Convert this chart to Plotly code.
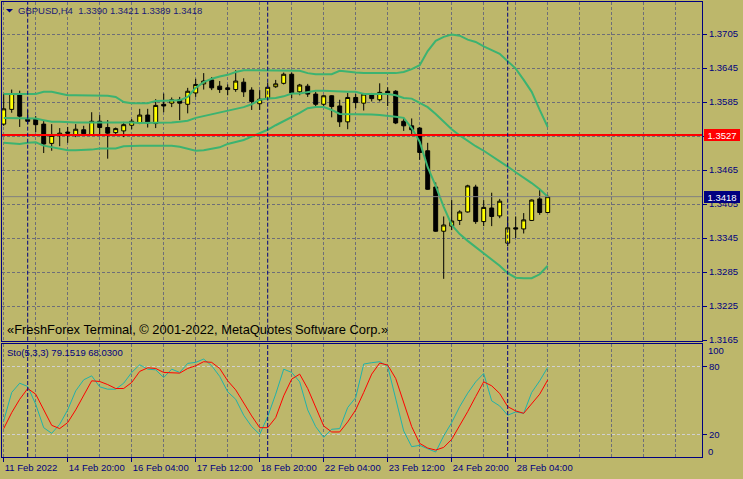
import plotly.graph_objects as go
from datetime import datetime, timedelta

# ---------------- data ----------------
symbol = "GBPUSD,H4"
trading_days = ["2022-02-11", "2022-02-14", "2022-02-15", "2022-02-16", "2022-02-17",
                "2022-02-18", "2022-02-21", "2022-02-22", "2022-02-23", "2022-02-24",
                "2022-02-25", "2022-02-28"]
first_bar = "2022-02-11 12:00"

open_ = [1.3546, 1.3572, 1.3599, 1.3556, 1.3555, 1.3546, 1.3512, 1.3526, 1.3532, 1.3526,
         1.3536, 1.3527, 1.3551, 1.3540, 1.3531, 1.3534, 1.3544, 1.3548, 1.3562, 1.3547,
         1.3581, 1.3583, 1.3589, 1.3581, 1.3601, 1.3617, 1.3624, 1.3613, 1.3610, 1.3607,
         1.3620, 1.3606, 1.3582, 1.3591, 1.3612, 1.3618, 1.3634, 1.3603, 1.3613, 1.3599,
         1.3581, 1.3596, 1.3578, 1.3550, 1.3593, 1.3583, 1.3599, 1.3589, 1.3604, 1.3604,
         1.3551, 1.3543, 1.3539, 1.3499, 1.3435, 1.3357, 1.3366, 1.3376, 1.3391, 1.3435,
         1.3374, 1.3398, 1.3384, 1.3336, 1.3363, 1.3361, 1.3376, 1.3414, 1.3390]
high = [1.3599, 1.3607, 1.3605, 1.3571, 1.3560, 1.3553, 1.3546, 1.3539, 1.3541, 1.3546,
        1.3543, 1.3567, 1.3562, 1.3553, 1.3540, 1.3550, 1.3555, 1.3573, 1.3573, 1.3590,
        1.3600, 1.3593, 1.3594, 1.3610, 1.3626, 1.3636, 1.3629, 1.3622, 1.3616, 1.3641,
        1.3627, 1.3611, 1.3606, 1.3619, 1.3624, 1.3637, 1.3637, 1.3617, 1.3617, 1.3603,
        1.3597, 1.3597, 1.3589, 1.3601, 1.3599, 1.3601, 1.3601, 1.3618, 1.3611, 1.3606,
        1.3557, 1.3556, 1.3541, 1.3513, 1.3443, 1.3383, 1.3412, 1.3394, 1.3439, 1.3439,
        1.3412, 1.3425, 1.3414, 1.3383, 1.3383, 1.3389, 1.3413, 1.3431, 1.3421]
low = [1.3543, 1.3566, 1.3541, 1.3546, 1.3532, 1.3495, 1.3499, 1.3507, 1.3513, 1.3523,
       1.3526, 1.3526, 1.3526, 1.3485, 1.3525, 1.3523, 1.3537, 1.3546, 1.3540, 1.3539,
       1.3567, 1.3576, 1.3553, 1.3565, 1.3594, 1.3607, 1.3606, 1.3601, 1.3597, 1.3603,
       1.3594, 1.3571, 1.3571, 1.3589, 1.3610, 1.3616, 1.3592, 1.3597, 1.3594, 1.3577,
       1.3578, 1.3558, 1.3541, 1.3537, 1.3574, 1.3570, 1.3586, 1.3586, 1.3578, 1.3546,
       1.3534, 1.3527, 1.3483, 1.3430, 1.3356, 1.3273, 1.3359, 1.3368, 1.3390, 1.3370,
       1.3366, 1.3366, 1.3380, 1.3331, 1.3345, 1.3353, 1.3375, 1.3386, 1.3389]
close = [1.3573, 1.3600, 1.3560, 1.3551, 1.3545, 1.3511, 1.3526, 1.3530, 1.3530, 1.3537,
         1.3529, 1.3551, 1.3540, 1.3530, 1.3538, 1.3545, 1.3551, 1.3562, 1.3548, 1.3579,
         1.3578, 1.3589, 1.3583, 1.3604, 1.3616, 1.3622, 1.3610, 1.3607, 1.3607, 1.3622,
         1.3603, 1.3586, 1.3590, 1.3611, 1.3617, 1.3634, 1.3601, 1.3615, 1.3599, 1.3581,
         1.3596, 1.3577, 1.3550, 1.3593, 1.3584, 1.3599, 1.3591, 1.3602, 1.3601, 1.3548,
         1.3543, 1.3536, 1.3496, 1.3431, 1.3357, 1.3368, 1.3375, 1.3391, 1.3437, 1.3374,
         1.3399, 1.3383, 1.3410, 1.3363, 1.3361, 1.3377, 1.3412, 1.3390, 1.3418]

bb_upper = [1.3599, 1.3599, 1.3599, 1.3599, 1.3599, 1.3603, 1.3603, 1.3600, 1.3597, 1.3597,
            1.3597, 1.3597, 1.3596, 1.3596, 1.3594, 1.3585, 1.3583, 1.3583, 1.3583, 1.3587,
            1.3587, 1.3587, 1.3588, 1.3594, 1.3610, 1.3620, 1.3626, 1.3630, 1.3633, 1.3638,
            1.3641, 1.3641, 1.3641, 1.3641, 1.3641, 1.3641, 1.3641, 1.3640, 1.3636, 1.3634,
            1.3634, 1.3634, 1.3640, 1.3638, 1.3637, 1.3636, 1.3636, 1.3636, 1.3636, 1.3636,
            1.3638, 1.3643, 1.3650, 1.3675, 1.3693, 1.3700, 1.3704, 1.3702, 1.3695, 1.3691,
            1.3683, 1.3676, 1.3670, 1.3657, 1.3644, 1.3624, 1.3603, 1.3571, 1.3541]
bb_middle = [1.3557, 1.3557, 1.3556, 1.3556, 1.3556, 1.3553, 1.3550, 1.3550, 1.3549, 1.3549,
             1.3549, 1.3549, 1.3549, 1.3550, 1.3550, 1.3550, 1.3549, 1.3548, 1.3548, 1.3548,
             1.3548, 1.3549, 1.3550, 1.3552, 1.3557, 1.3560, 1.3564, 1.3567, 1.3570, 1.3573,
             1.3576, 1.3581, 1.3589, 1.3591, 1.3592, 1.3595, 1.3600, 1.3600, 1.3603, 1.3605,
             1.3605, 1.3604, 1.3603, 1.3603, 1.3603, 1.3599, 1.3599, 1.3599, 1.3599, 1.3597,
             1.3592, 1.3591, 1.3583, 1.3576, 1.3564, 1.3551, 1.3537, 1.3526, 1.3516, 1.3507,
             1.3499, 1.3490, 1.3480, 1.3471, 1.3461, 1.3452, 1.3442, 1.3431, 1.3418]
bb_lower = [1.3513, 1.3512, 1.3511, 1.3513, 1.3514, 1.3508, 1.3505, 1.3502, 1.3500, 1.3500,
            1.3500, 1.3501, 1.3503, 1.3503, 1.3503, 1.3507, 1.3508, 1.3508, 1.3508, 1.3508,
            1.3508, 1.3508, 1.3506, 1.3503, 1.3499, 1.3500, 1.3502, 1.3505, 1.3511, 1.3514,
            1.3518, 1.3524, 1.3530, 1.3536, 1.3544, 1.3551, 1.3558, 1.3566, 1.3574, 1.3576,
            1.3576, 1.3571, 1.3564, 1.3564, 1.3564, 1.3564, 1.3563, 1.3562, 1.3561, 1.3559,
            1.3557, 1.3539, 1.3515, 1.3470, 1.3437, 1.3400, 1.3368, 1.3352, 1.3340, 1.3329,
            1.3318, 1.3306, 1.3296, 1.3283, 1.3275, 1.3274, 1.3274, 1.3281, 1.3296]

sto_main = [31.9, 57.0, 65.2, 62.3, 46.6, 25.9, 20.9, 28.9, 41.6, 58.4,
            68.2, 71.7, 62.0, 59.9, 59.9, 65.2, 74.7, 81.5, 77.6, 77.0,
            70.2, 77.6, 74.7, 82.7, 83.6, 86.5, 80.6, 71.2, 57.6, 51.0,
            36.9, 26.8, 20.0, 35.7, 55.5, 77.6, 74.7, 66.4, 41.6, 26.8,
            17.4, 24.5, 25.1, 43.7, 52.5, 82.1, 83.3, 84.2, 80.1, 52.0,
            23.0, 9.1, 10.3, 7.3, 4.4, 18.6, 30.4, 44.5, 56.4, 66.4,
            73.8, 49.6, 45.1, 36.9, 39.8, 38.6, 57.0, 67.3, 79.1519]
sto_signal = [25.1, 39.2, 51.0, 60.5, 55.5, 42.2, 28.0, 25.1, 30.4, 41.6,
              54.0, 67.3, 66.7, 64.0, 60.5, 60.5, 65.8, 75.6, 78.8, 78.2,
              74.7, 74.7, 74.1, 78.2, 80.6, 84.2, 83.6, 78.2, 67.3, 59.3,
              47.5, 36.3, 25.9, 25.9, 34.8, 54.0, 68.8, 73.2, 60.5, 43.7,
              27.4, 22.1, 22.1, 31.0, 41.6, 57.0, 73.2, 83.0, 81.2, 69.4,
              48.9, 26.8, 12.0, 7.9, 6.1, 8.5, 15.6, 27.4, 40.1, 53.4,
              66.4, 62.9, 56.1, 44.5, 40.7, 38.6, 46.6, 55.5, 68.03]
sto_levels = [20, 80]
price_level = 1.3527
price_ticks = [1.3165, 1.3225, 1.3285, 1.3345, 1.3405, 1.3465, 1.3525, 1.3585, 1.3645, 1.3705]

# ---------------- derived ----------------
start = datetime.strptime(first_bar, "%Y-%m-%d %H:%M")
times = []
for d in trading_days:
    day = datetime.strptime(d, "%Y-%m-%d")
    for h in range(0, 24, 4):
        t = day + timedelta(hours=h)
        if t >= start:
            times.append(t)
times = times[:len(close)]
n = len(close)
x = list(range(n))

label_idx = list(range(0, n, 8))
label_txt = [times[i].strftime("%d %b %Y") if j == 0 else times[i].strftime("%d %b %H:%M")
             for j, i in enumerate(label_idx)]
separators = [i for i, t in enumerate(times) if t.weekday() == 0 and t.hour == 0]

BG = "#BDB76B"
NAVY = "#000080"
GRID = "#6e6e78"
FONT = "Liberation Sans, Arial, sans-serif"

fig = go.Figure()
fig.add_trace(go.Candlestick(
    x=x, open=open_, high=high, low=low, close=close,
    increasing=dict(fillcolor="#FFFF00", line=dict(color="#000000", width=1)),
    decreasing=dict(fillcolor="#000000", line=dict(color="#000000", width=1)),
    whiskerwidth=0, xaxis="x", yaxis="y", hoverinfo="skip", showlegend=False))
for band in (bb_upper, bb_middle, bb_lower):
    fig.add_trace(go.Scatter(x=x, y=band, mode="lines", xaxis="x", yaxis="y",
                             line=dict(color="#3CB371", width=2), hoverinfo="skip",
                             showlegend=False))
fig.add_trace(go.Scatter(x=x, y=sto_main, mode="lines", xaxis="x2", yaxis="y2",
                         line=dict(color="#20B2AA", width=1), hoverinfo="skip",
                         showlegend=False))
fig.add_trace(go.Scatter(x=x, y=sto_signal, mode="lines", xaxis="x2", yaxis="y2",
                         line=dict(color="#FF0000", width=1), hoverinfo="skip",
                         showlegend=False))

# horizontal level lines
fig.add_shape(type="line", xref="x domain", yref="y", x0=0, x1=1, y0=price_level, y1=price_level,
              line=dict(color="#FF0000", width=2), layer="above")
fig.add_shape(type="line", xref="x domain", yref="y", x0=0, x1=1, y0=close[-1], y1=close[-1],
              line=dict(color="#808080", width=1), layer="above")
# period separators
for i in separators:
    for yr in ("y domain", "y2 domain"):
        fig.add_shape(type="line", xref="x", yref=yr, x0=i, x1=i, y0=0, y1=1,
                      line=dict(color=NAVY, width=1, dash="4px,2px"), layer="above")

PLOT_L, PLOT_R, PLOT_T, PLOT_B = 2, 41, 2, 22
W, H = 743, 479
pw, ph = W - PLOT_L - PLOT_R, H - PLOT_T - PLOT_B


def px(xp):
    return (xp - PLOT_L) / pw


def py(yp):
    return 1 - (yp - PLOT_T) / ph


# header triangle
fig.add_shape(type="path", xref="paper", yref="paper",
              path=f"M {px(6)},{py(9)} L {px(13)},{py(9)} L {px(9.5)},{py(12.5)} Z",
              fillcolor=NAVY, line=dict(width=0))

x_range = [-0.2125, 87.2875]
main_dom = [py(340.7), 1]
sto_dom = [0, py(343.8)]
y_range = [1.31638, 1.37615]

axis_font = dict(family=FONT, size=9.5, color=NAVY)
fig.update_layout(
    width=W, height=H,
    margin=dict(l=PLOT_L, r=PLOT_R, t=PLOT_T, b=PLOT_B, pad=0, autoexpand=False),
    paper_bgcolor=BG, plot_bgcolor=BG,
    font=dict(family=FONT, size=9.5, color=NAVY),
    showlegend=False, hovermode=False,
    xaxis=dict(domain=[0, 1], anchor="y", range=x_range, rangeslider=dict(visible=False),
               tickmode="array", tickvals=label_idx, showticklabels=False, ticks="",
               automargin=False,
               showgrid=True, gridcolor=GRID, griddash="3px,2px", gridwidth=1,
               minor=dict(tick0=0, dtick=4, showgrid=True, gridcolor=GRID, griddash="3px,2px"),
               showline=True, mirror=True, linecolor=NAVY, linewidth=1, zeroline=False),
    xaxis2=dict(domain=[0, 1], anchor="y2", matches="x", range=x_range,
                tickmode="array", tickvals=label_idx, ticktext=label_txt, tickangle=0,
                ticklabelposition="outside right", ticks="outside", ticklen=4, tickcolor=NAVY,
                ticklabelstandoff=2,
                tickfont=axis_font, automargin=False,
                showgrid=True, gridcolor=GRID, griddash="3px,2px", gridwidth=1,
                minor=dict(tick0=0, dtick=4, showgrid=True, gridcolor=GRID, griddash="3px,2px"),
                showline=True, mirror=True, linecolor=NAVY, linewidth=1, zeroline=False),
    yaxis=dict(domain=main_dom, anchor="x", range=y_range, side="right",
               tickmode="array", tickvals=price_ticks, tickformat=".4f", automargin=False,
               ticks="outside", ticklen=4, tickcolor=NAVY, tickfont=axis_font,
               showgrid=True, gridcolor=GRID, griddash="3px,2px", gridwidth=1,
               showline=True, mirror=True, linecolor=NAVY, linewidth=1, zeroline=False),
    yaxis2=dict(domain=sto_dom, anchor="x2", range=[0, 100], side="right",
                tickmode="array", tickvals=sto_levels, automargin=False,
                ticks="outside", ticklen=4, tickcolor=NAVY, tickfont=axis_font,
                showgrid=True, gridcolor="#d0d0d0", griddash="3px,2px", gridwidth=1,
                showline=True, mirror=True, linecolor=NAVY, linewidth=1, zeroline=False),
)

ann = []
ann.append(dict(xref="paper", yref="paper", x=px(16), y=py(10.5), xanchor="left", yanchor="middle",
                showarrow=False, font=dict(family=FONT, size=9.5, color="#1a1a78"),
                text=f"{symbol}\u00a0\u00a0{open_[-1]:.4f} {high[-1]:.4f} {low[-1]:.4f} {close[-1]:.4f}"))
ann.append(dict(xref="paper", yref="paper", x=px(5), y=py(329), xanchor="left", yanchor="middle",
                showarrow=False, font=dict(family=FONT, size=12.9, color="#000000"),
                text="«FreshForex Terminal, © 2001-2022, MetaQuotes Software Corp.»"))
ann.append(dict(xref="paper", yref="paper", x=px(5), y=py(352), xanchor="left", yanchor="middle",
                showarrow=False, font=dict(family=FONT, size=9.5, color=NAVY),
                text=f"Sto(5,3,3) {sto_main[-1]:.4f} {sto_signal[-1]:.4f}"))
for val, bg in ((price_level, "#FF0000"), (close[-1], NAVY)):
    ann.append(dict(xref="paper", yref="y", x=1, y=val, xanchor="left", yanchor="middle",
                    xshift=2, showarrow=False, bgcolor=bg, borderpad=1, borderwidth=0,
                    width=34, height=10, align="center",
                    font=dict(family=FONT, size=9.5, color="#FFFFFF"), text=f"{val:.4f}"))
ann.append(dict(xref="paper", yref="y2", x=1, y=100, xanchor="left", yanchor="top", xshift=4,
                yshift=1, showarrow=False, font=axis_font, text="100"))
ann.append(dict(xref="paper", yref="y2", x=1, y=0, xanchor="left", yanchor="bottom", xshift=4,
                yshift=-2, showarrow=False, font=axis_font, text="0"))
fig.update_layout(annotations=ann)

fig.write_html("out.html", config={"displayModeBar": False},
               post_script="document.body.style.margin='0';document.body.style.overflow='hidden';")
